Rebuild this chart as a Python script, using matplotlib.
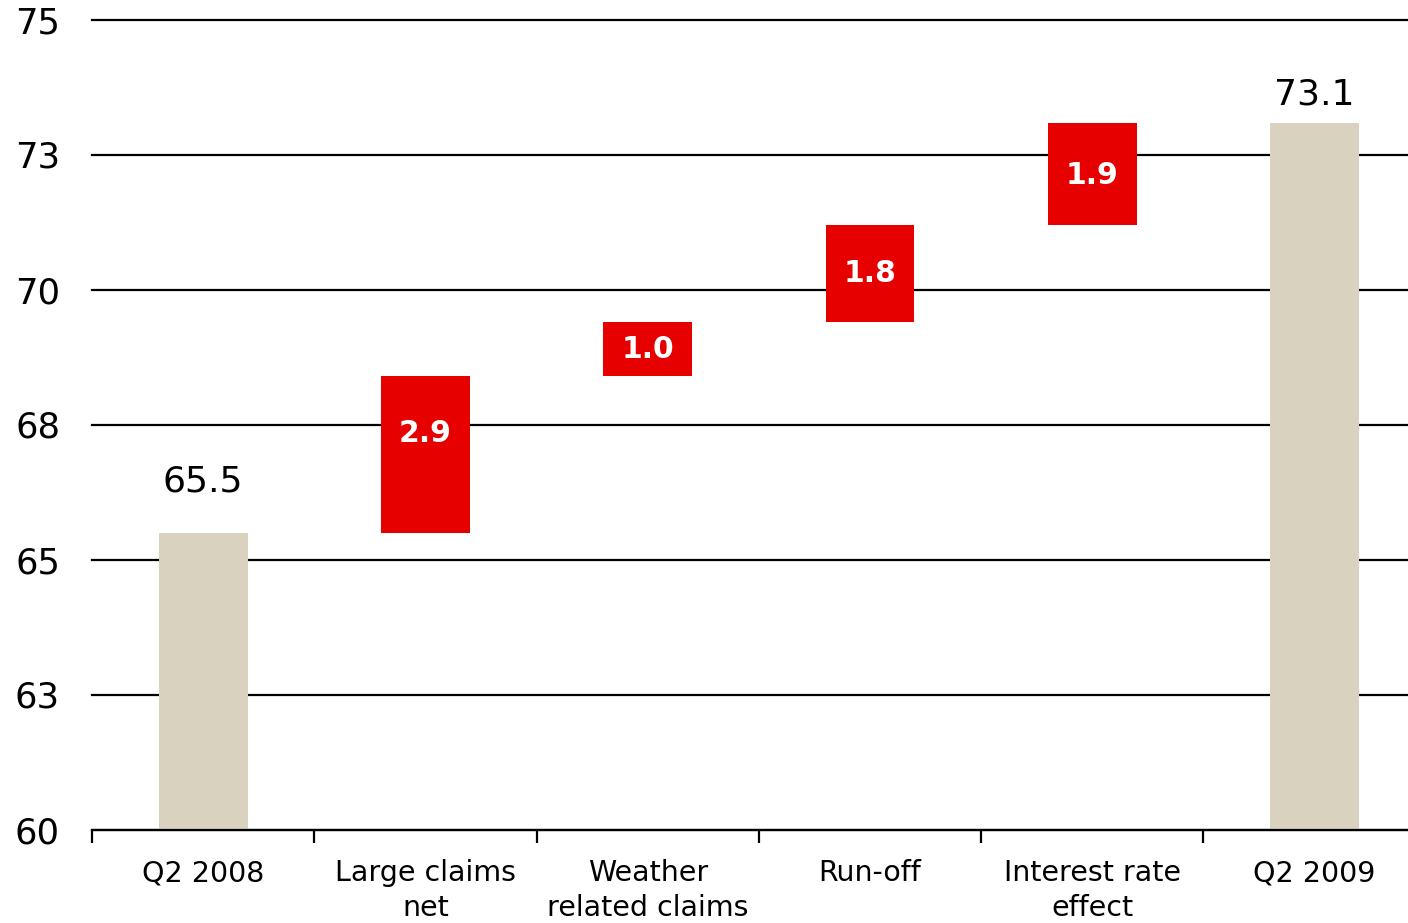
import matplotlib
matplotlib.use("Agg")
import matplotlib.pyplot as plt
import numpy as np

categories = ["Q2 2008", "Large claims\nnet", "Weather\nrelated claims", "Run-off", "Interest rate\neffect", "Q2 2009"]
start_value = 65.5
changes = [2.9, 1.0, 1.8, 1.9]
end_value = 73.1
ytick_vals = [60, 62.5, 65, 67.5, 70, 72.5, 75]
ytick_labels = ["60", "63", "65", "68", "70", "73", "75"]

beige = "#D9D2BF"
red = "#E60000"

fig = plt.figure(figsize=(14.08, 9.23), dpi=100)
ax = fig.add_axes([92/1408, 1-830/923, 1-92/1408, (830-20)/923])

x = np.arange(len(categories))
w = 0.4

# totals
ax.bar(x[0], start_value - 60, bottom=60, width=w, color=beige, zorder=3)
ax.bar(x[-1], end_value - 60, bottom=60, width=w, color=beige, zorder=3)

# increments
bottoms = start_value + np.concatenate([[0], np.cumsum(changes)[:-1]])
ax.bar(x[1:-1], changes, bottom=bottoms, width=w, color=red, zorder=3)

label_dy = [-21, 0, 0, 2]
for xi, b, c, dy in zip(x[1:-1], bottoms, changes, label_dy):
    ax.annotate(f"{c:.1f}", (xi, b + c / 2), xytext=(0, -dy), textcoords="offset pixels",
                ha="center", va="center", color="white", fontsize=21.5, fontweight="bold", zorder=4)

ax.annotate(f"{start_value:.1f}", (x[0], start_value), xytext=(0, 52), textcoords="offset pixels",
            ha="center", va="center", fontsize=26, color="black")
ax.annotate(f"{end_value:.1f}", (x[-1], end_value), xytext=(0, 28), textcoords="offset pixels",
            ha="center", va="center", fontsize=26, color="black")

ax.set_ylim(60, 75)
ax.set_xlim(-0.5, 5.42)
ax.set_yticks(ytick_vals)
ax.set_yticklabels([])
ax.tick_params(axis="y", length=0)
for v, t in zip(ytick_vals, ytick_labels):
    ax.annotate(t, (0, v), xycoords=("axes fraction", "data"), xytext=(-32, -3),
                textcoords="offset pixels", ha="right", va="center", fontsize=25.5,
                annotation_clip=False)
ax.yaxis.grid(True, color="black", linewidth=1.6, zorder=1)
for gl in ax.get_ygridlines():
    gl.set_clip_on(False)
ax.set_axisbelow(True)

ax.set_xticks(x)
ax.set_xticklabels(categories, fontsize=20.5, linespacing=1.32)
ax.tick_params(axis="x", which="major", length=0, pad=21)
ax.set_xticks(np.arange(-0.5, 5.0, 1.0), minor=True)
ax.tick_params(axis="x", which="minor", length=9, width=1.6, direction="out", color="black")

for s in ["left", "right", "top"]:
    ax.spines[s].set_visible(False)
ax.spines["bottom"].set_linewidth(1.6)
ax.spines["bottom"].set_zorder(5)

fig.savefig("out.png", dpi=100)
